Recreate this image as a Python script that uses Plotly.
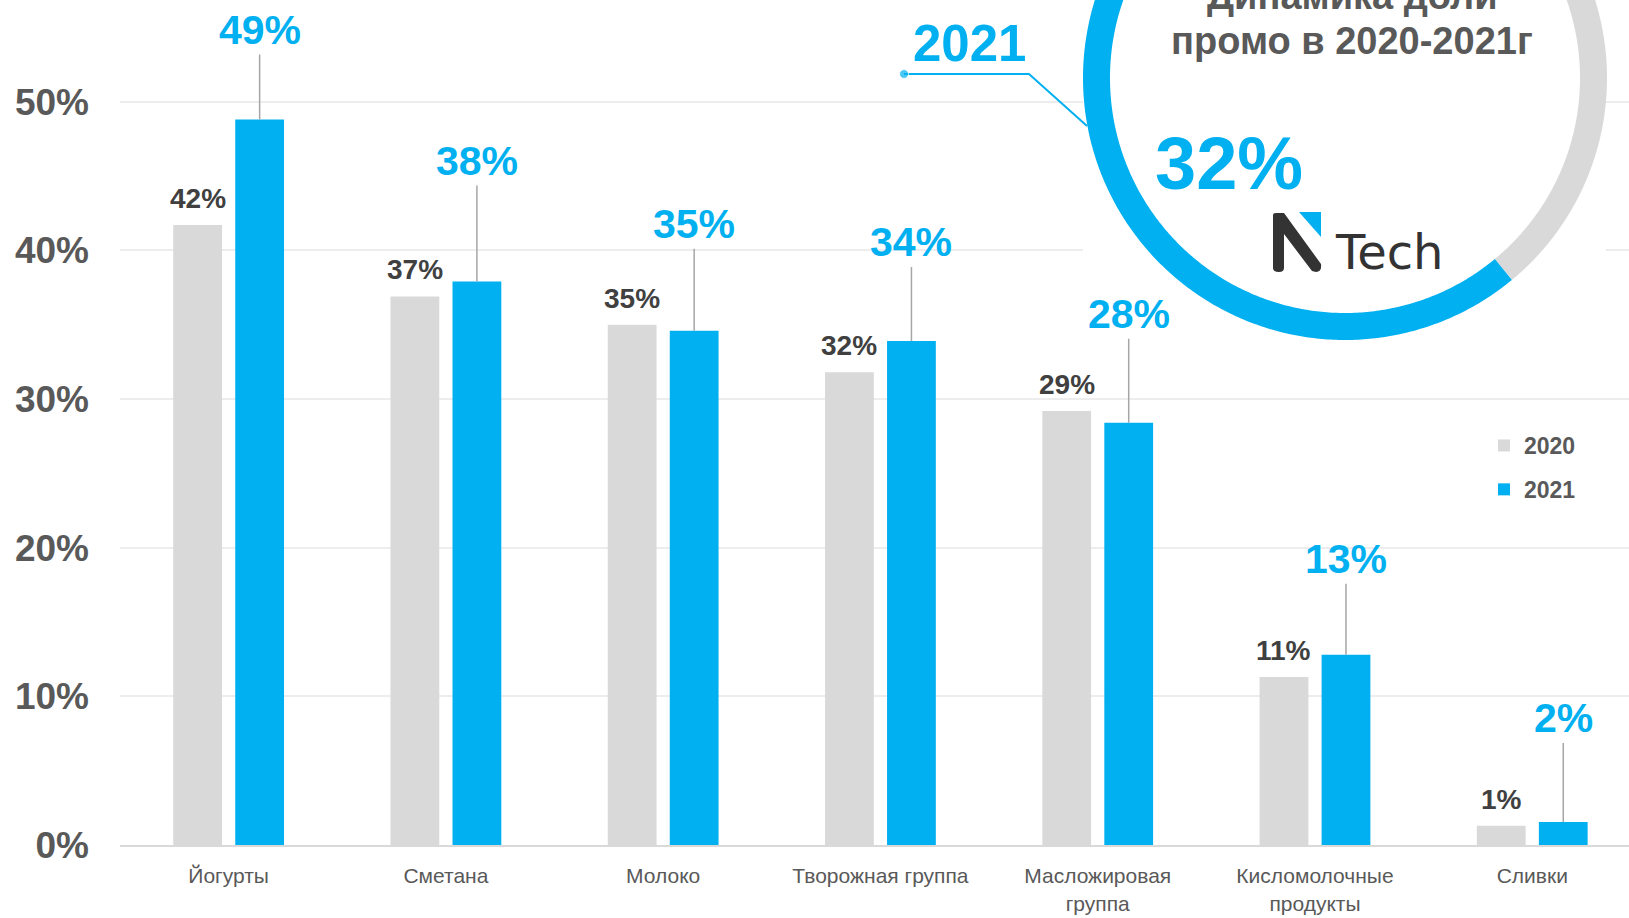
import numpy as np
import plotly.graph_objects as go

# ---------------- data ----------------
categories = ["Йогурты", "Сметана", "Молоко", "Творожная группа",
              "Масложировая<br>группа", "Кисломолочные<br>продукты", "Сливки"]
share_2020 = [41.7, 36.9, 35.0, 31.8, 29.2, 11.3, 1.3]
share_2021 = [48.8, 37.9, 34.6, 33.9, 28.4, 12.8, 1.55]
series_names = ["2020", "2021"]
y_ticks = [0, 10, 20, 30, 40, 50]
promo_total_2021 = 32          # big number in the ring
ring_split = [39, 61]          # ring: grey part (2020), blue part (2021)

# ---------------- style / layout ----------------
label_lift_2021 = [65, 96, 82, 74, 84, 71, 79]   # px, leader line length
GREY = "#D9D9D9"
BLUE = "#00B0F0"
TXT = "#595959"
DARK = "#404040"
FONT = "Liberation Sans, Arial, sans-serif"

W, H = 1629, 918
ML, MB = 120, 73
PW, PH = W - ML, H - MB
PX_PER_PCT = 14.866
CAT_PX = 217.27
BW = 0.2245
OFF = [-0.255, 0.0304]


def px2cat(px):
    return (px - ML) / CAT_PX - 0.5


def py2val(py):
    return (PH - py) / PX_PER_PCT


fig = go.Figure()
colors = [GREY, BLUE]
for k, (name, vals) in enumerate(zip(series_names, [share_2020, share_2021])):
    fig.add_trace(go.Bar(
        x=categories, y=vals, name=name, marker_color=colors[k],
        width=BW, offset=OFF[k], legendgroup=name, hoverinfo="skip",
        marker_line_width=0))

annotations = []
for i, v in enumerate(share_2020):
    annotations.append(dict(
        x=i + OFF[0] + BW / 2, y=v, xref="x", yref="y", text=f"{v:.0f}%",
        showarrow=False, yanchor="bottom", yshift=9,
        font=dict(family=FONT, size=28, color=DARK, weight="bold")))
for i, v in enumerate(share_2021):
    annotations.append(dict(
        x=i + OFF[1] + BW / 2, y=v, xref="x", yref="y", text=f"{v:.0f}%",
        showarrow=True, arrowhead=0, arrowwidth=1.5, arrowcolor="#A6A6A6",
        ax=0, ay=-label_lift_2021[i], yanchor="bottom", standoff=0,
        font=dict(family=FONT, size=41, color=BLUE, weight="bold")))

# ---------------- ring (pixel-coordinate overlay axes) ----------------
CX, CY, R_OUT, THICK = 1345, 78, 262, 27
R_MID = R_OUT - THICK / 2


def arc(a0, a1, n=360):
    t = np.radians(np.linspace(a0, a1, n))
    return CX + R_MID * np.sin(t), CY - R_MID * np.cos(t)


split_deg = 360 * ring_split[0] / sum(ring_split)
for (a0, a1), col in zip([(0, split_deg), (split_deg, 360)], [GREY, BLUE]):
    xs, ys = arc(a0, a1)
    fig.add_trace(go.Scatter(x=xs, y=ys, xaxis="x2", yaxis="y2", mode="lines",
                             line=dict(color=col, width=THICK, simplify=False),
                             showlegend=False, hoverinfo="skip"))

# callout leader for "2021"
fig.add_trace(go.Scatter(x=[904, 1029, 1087], y=[74, 74, 126], xaxis="x2", yaxis="y2",
                         mode="lines+markers", line=dict(color=BLUE, width=2, simplify=False),
                         marker=dict(size=[9, 0, 0], color=BLUE), showlegend=False,
                         hoverinfo="skip"))

shapes = [
    # white card behind ring (hides gridlines), in main-axis units
    dict(type="rect", xref="x", yref="y", x0=px2cat(1083), x1=px2cat(1606),
         y0=py2val(340), y1=py2val(-20),
         fillcolor="white", line_width=0, layer="between"),
    # NTech logo
    dict(type="path", xref="x2", yref="y2", layer="above", fillcolor="#333333", line_width=0,
         path="M1273,215 Q1273,213 1276,213 L1284,213 L1321,264 Q1322,272 1316,272 "
              "L1312,271 L1284,234 L1284,268 Q1284,272 1279,272 Q1273,272 1273,268 Z"),
    dict(type="path", xref="x2", yref="y2", layer="above", fillcolor=BLUE, line_width=0,
         path="M1299,212 L1321,212 L1321,237 Z"),
]

annotations += [
    dict(x=1352, y=0, xref="x2", yref="y2", text="Динамика доли", showarrow=False,
         yshift=4, font=dict(family=FONT, size=38, color=TXT, weight="bold")),
    dict(x=1352, y=41, xref="x2", yref="y2", text="промо в 2020-2021г", showarrow=False,
         font=dict(family=FONT, size=38, color=TXT, weight="bold")),
    dict(x=1229, y=163, xref="x2", yref="y2", text=f"{promo_total_2021}%", showarrow=False,
         font=dict(family=FONT, size=74, color=BLUE, weight="bold")),
    dict(x=969, y=43, xref="x2", yref="y2", text="2021", showarrow=False,
         font=dict(family=FONT, size=51, color=BLUE, weight="bold")),
    dict(x=1389, y=252, xref="x2", yref="y2", text="Tech", showarrow=False,
         font=dict(family="DejaVu Sans", size=48, color="#333333")),
]

fig.update_layout(
    width=W, height=H,
    margin=dict(l=ML, r=0, t=0, b=MB, pad=0),
    paper_bgcolor="white", plot_bgcolor="white",
    barmode="overlay",
    font=dict(family=FONT, color=TXT),
    showlegend=True,
    legend=dict(x=(1484 - ML) / PW, xanchor="left", y=1 - 424 / PH, yanchor="top",
                traceorder="grouped", tracegroupgap=11,
                font=dict(family=FONT, size=23, color=TXT, weight="bold"),
                bgcolor="rgba(0,0,0,0)"),
    xaxis=dict(range=[-0.5, -0.5 + PW / CAT_PX], showgrid=False, showline=True,
               linecolor=GREY, linewidth=2, ticks="", ticklabelstandoff=11,
               tickfont=dict(family=FONT, size=21, color=TXT), fixedrange=True),
    yaxis=dict(range=[0, PH / PX_PER_PCT], tickvals=y_ticks,
               ticktext=[f"{v}%" for v in y_ticks], showgrid=True, gridcolor="#EDEDED",
               gridwidth=1.5, zeroline=False, showline=False, ticks="",
               ticklabelstandoff=30,
               tickfont=dict(family=FONT, size=37, color=TXT, weight="bold")),
    xaxis2=dict(overlaying="x", range=[ML, W], visible=False, anchor="y2"),
    yaxis2=dict(overlaying="y", range=[PH, 0], visible=False, anchor="x2"),
    shapes=shapes,
    annotations=annotations,
)

fig.write_html("out.html")
